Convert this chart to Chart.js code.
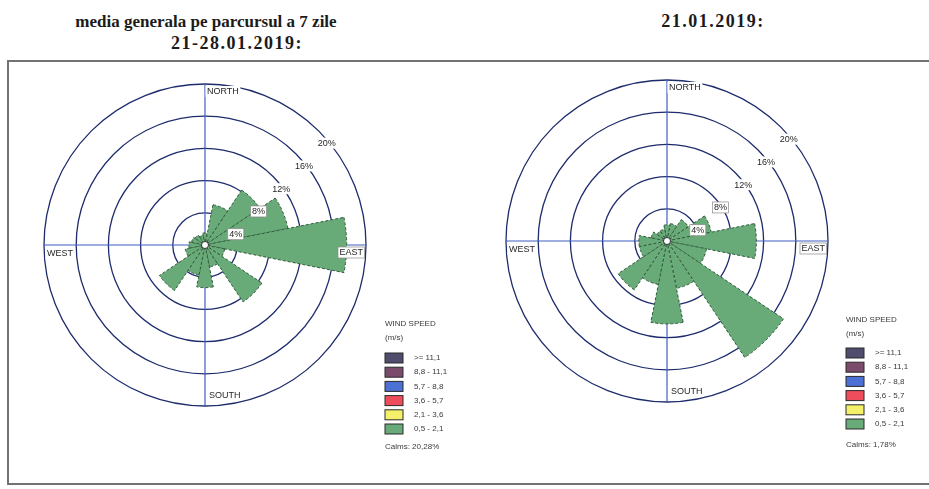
<!DOCTYPE html>
<html>
<head>
<meta charset="utf-8">
<script src="https://cdn.jsdelivr.net/npm/chart.js@4.4.0/dist/chart.umd.min.js"></script>
<style>
  html, body { margin: 0; padding: 0; background: #fff; width: 929px; height: 489px; overflow: hidden; }
  .title { position: absolute; font-family: "Liberation Serif", "Times New Roman", serif; font-weight: bold; color: #1b1b1b; white-space: nowrap; transform: translateX(-50%); }
  .panel { position: absolute; border: 2px solid #727272; background: #fff; }
  canvas { position: absolute; }
</style>
</head>
<body>
<div class="title" style="left:206px; top:12px; font-size:17px;">media generala pe parcursul a 7 zile</div>
<div class="title" style="left:237px; top:33px; font-size:18px; letter-spacing:1.5px;">21-28.01.2019:</div>
<div class="title" style="left:713px; top:11px; font-size:18px; letter-spacing:1.5px;">21.01.2019:</div>

<div class="panel" style="left:7px; top:60px; width:461px; height:421px;"></div>
<div class="panel" style="left:470px; top:60px; width:480px; height:421px; border-left-width:0;"></div>

<canvas id="weekChart" width="461" height="421" style="left:9px; top:62px;"></canvas>
<canvas id="dayChart" width="457" height="421" style="left:472px; top:62px;"></canvas>

<script>
// 16 wind directions, clockwise from north
const directions = ['N', 'NNE', 'NE', 'ENE', 'E', 'ESE', 'SE', 'SSE', 'S', 'SSW', 'SW', 'WSW', 'W', 'WNW', 'NW', 'NNW'];

// frequency (%) per direction, all in the 0,5 - 2,1 m/s class
const weekFreq = [1.5, 5.1, 8.2, 10.5, 17.6, 2.5, 8.5, 2.8, 5.3, 3.8, 6.8, 2.5, 2.0, 1.7, 1.5, 1.2];
const dayFreq = [2.0, 2.2, 3.2, 5.6, 11.1, 5.0, 17.4, 6.0, 10.3, 5.5, 7.3, 3.5, 3.5, 2.0, 1.5, 1.5];

const weekCalms = 'Calms: 20,28%';
const dayCalms = 'Calms: 1,78%';

const ringTicks = [4, 8, 12, 16, 20];
const compassLabels = ['NORTH', 'EAST', 'SOUTH', 'WEST'];

const speedClasses = ['>= 11,1', '8,8 - 11,1', '5,7 - 8,8', '3,6 - 5,7', '2,1 - 3,6', '0,5 - 2,1'];
const speedColors = ['#4f4c6e', '#7b4b6b', '#4d70d4', '#ef4d5c', '#f4f06a', '#69aa79'];

const labelFont = '9px "Liberation Sans", Arial, sans-serif';

function boxedText(ctx, text, x, y, align, baseline, border) {
  ctx.font = labelFont;
  const w = ctx.measureText(text).width;
  const h = 9;
  let left = align === 'right' ? x - w : (align === 'center' ? x - w / 2 : x);
  let top = baseline === 'bottom' ? y - h : (baseline === 'middle' ? y - h / 2 : y);
  ctx.fillStyle = '#fff';
  ctx.fillRect(left - 1.5, top - 1, w + 3, h + 2);
  if (border) {
    ctx.strokeStyle = '#8a8a8a';
    ctx.lineWidth = 0.7;
    ctx.strokeRect(left - 1.5, top - 1, w + 3, h + 2);
  }
  ctx.fillStyle = '#262626';
  ctx.textAlign = 'left';
  ctx.textBaseline = 'top';
  ctx.fillText(text, left, top + 0.5);
}

const roseExtras = {
  id: 'roseExtras',
  beforeDatasetsDraw(chart) {
    const s = chart.scales.r;
    const R = s.getDistanceFromCenterForValue(s.max);
    const ctx = chart.ctx;
    ctx.save();
    ctx.strokeStyle = '#3f5fc4';
    ctx.lineWidth = 1.2;
    ctx.beginPath();
    ctx.moveTo(s.xCenter, s.yCenter - R);
    ctx.lineTo(s.xCenter, s.yCenter + R);
    ctx.moveTo(s.xCenter - R, s.yCenter);
    ctx.lineTo(s.xCenter + R, s.yCenter);
    ctx.stroke();
    ctx.restore();
  },
  afterDatasetsDraw(chart, args, opts) {
    const s = chart.scales.r;
    const ctx = chart.ctx;
    const xc = s.xCenter, yc = s.yCenter;
    const R = s.getDistanceFromCenterForValue(s.max);
    ctx.save();

    // calm circle
    ctx.beginPath();
    ctx.arc(xc, yc, 3.5, 0, Math.PI * 2);
    ctx.fillStyle = '#fff';
    ctx.fill();
    ctx.strokeStyle = '#333';
    ctx.lineWidth = 1;
    ctx.stroke();

    // ring labels
    ringTicks.forEach(v => {
      const d = s.getDistanceFromCenterForValue(v);
      const x = xc + d * Math.SQRT1_2 + 8;
      const y = yc - d * Math.SQRT1_2 + 12;
      boxedText(ctx, v + '%', x, y, 'center', 'middle', v <= 8);
    });

    // compass labels
    boxedText(ctx, compassLabels[0], xc + 2, yc - R + 3, 'left', 'top', false);
    boxedText(ctx, compassLabels[1], xc + R - 3, yc + 3, 'right', 'top', true);
    boxedText(ctx, compassLabels[2], xc + 4, yc + R - 6, 'left', 'bottom', false);
    boxedText(ctx, compassLabels[3], xc - R + 3, yc + 4, 'left', 'top', false);

    // legend
    const lg = opts.legend;
    ctx.font = '8px "Liberation Sans", Arial, sans-serif';
    ctx.fillStyle = '#3a3a3a';
    ctx.textAlign = 'left';
    ctx.textBaseline = 'middle';
    ctx.fillText('WIND SPEED', lg.x, lg.y);
    ctx.fillText('(m/s)', lg.x, lg.y + 14);
    speedClasses.forEach((label, i) => {
      const cy = lg.rowsY + i * lg.step;
      ctx.fillStyle = speedColors[i];
      ctx.fillRect(lg.x, cy - 5, 18, 10);
      ctx.strokeStyle = '#2a2a2a';
      ctx.lineWidth = 1;
      ctx.strokeRect(lg.x, cy - 5, 18, 10);
      ctx.fillStyle = '#3a3a3a';
      ctx.fillText(label, lg.x + 29, cy);
    });
    ctx.fillText(opts.calms, lg.x, lg.calmsY);
    ctx.restore();
  }
};

function makeRose(id, freq, calms, padding, legend) {
  return new Chart(document.getElementById(id), {
    type: 'polarArea',
    data: {
      labels: directions,
      datasets: [{
        data: freq,
        backgroundColor: '#69aa79',
        borderColor: '#2f5c3a',
        borderWidth: 1,
        borderDash: [3, 2]
      }]
    },
    options: {
      responsive: false,
      animation: false,
      layout: { padding: padding },
      scales: {
        r: {
          min: 0,
          max: 20,
          startAngle: -11.25,
          ticks: { display: false, stepSize: 4 },
          grid: { circular: true, color: '#1e2c6c', lineWidth: 1.3 },
          angleLines: { display: false },
          pointLabels: { display: false }
        }
      },
      plugins: {
        legend: { display: false },
        tooltip: { enabled: false },
        roseExtras: { calms: calms, legend: legend }
      }
    },
    plugins: [roseExtras]
  });
}

makeRose('weekChart', weekFreq, weekCalms,
  { left: 35, top: 22, right: 104, bottom: 77 },
  { x: 376, y: 262, rowsY: 296, step: 14.2, calmsY: 385 });

makeRose('dayChart', dayFreq, dayCalms,
  { left: 34, top: 18, right: 101, bottom: 81 },
  { x: 374, y: 258, rowsY: 291, step: 14.2, calmsY: 383 });
</script>
</body>
</html>
